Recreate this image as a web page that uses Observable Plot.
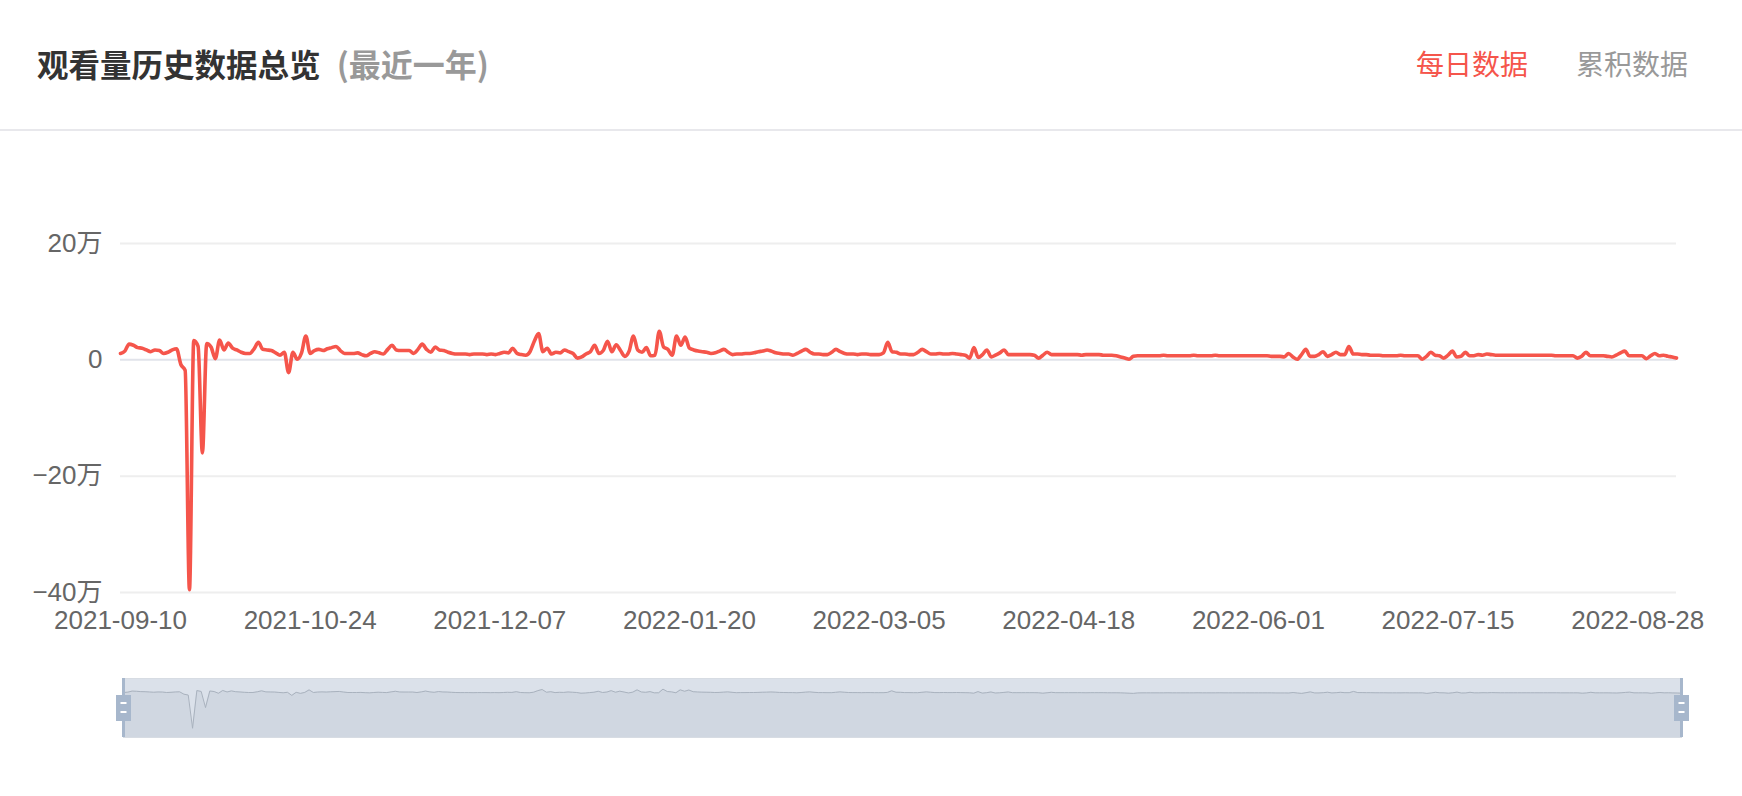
<!DOCTYPE html>
<html>
<head>
<meta charset="utf-8">
<script src="https://cdn.jsdelivr.net/npm/d3@7"></script>
<script src="https://cdn.jsdelivr.net/npm/@observablehq/plot@0.6"></script>
<style>
  html, body { margin: 0; padding: 0; background: #fff; }
  body { width: 1742px; height: 796px; position: relative; overflow: hidden;
         font-family: "Noto Sans CJK SC", "Noto Sans", sans-serif; }
  #title { position: absolute; left: 37px; top: 43px; font-size: 31.5px; font-weight: 700;
           color: #333; line-height: 40px; white-space: nowrap; }
  #title .sub { color: #999; margin-left: 9px; font-size: 32px; }
  .tab { position: absolute; top: 43px; font-size: 28px; line-height: 40px; white-space: nowrap; }
  #tab1 { left: 1416px; color: #f5554b; }
  #tab2 { left: 1576px; color: #999; }
  #sep { position: absolute; left: 0; top: 129px; width: 1742px; height: 2px; background: #e8e8ec; }
  #chart { position: absolute; left: 0; top: 140px; width: 1742px; height: 520px; }
  #slider { position: absolute; left: 0; top: 678px; width: 1742px; }
</style>
</head>
<body>
<div id="title">观看量历史数据总览 <span class="sub">(最近一年)</span></div>
<div class="tab" id="tab1">每日数据</div>
<div class="tab" id="tab2">累积数据</div>
<div id="sep"></div>
<div id="chart"></div>
<div id="slider"></div>
<script>
// ---- data (daily views, unit: 万) ----
const startDate = "2021-09-10";
const dailyViews = [
  1.1, 1.5, 2.7, 2.5, 2.1, 2.0, 1.7, 1.4, 1.7, 1.6,
  1.1, 1.3, 1.7, 1.9, -0.8, -1.8, -39.5, 3.3, 2.3, -16.0,
  2.8, 2.2, 0.2, 3.4, 1.7, 2.9, 2.0, 1.7, 1.3, 1.1,
  1.1, 1.9, 3.0, 1.8, 1.7, 1.6, 1.2, 0.8, 1.3, -2.2,
  1.3, 0.1, 1.2, 4.1, 1.1, 1.6, 1.8, 1.6, 1.9, 2.1,
  2.3, 1.6, 1.1, 1.1, 1.1, 1.2, 0.9, 0.7, 1.1, 1.4,
  1.2, 1.0, 1.8, 2.5, 1.7, 1.6, 1.6, 1.6, 1.1, 1.8,
  2.7, 1.8, 1.3, 2.2, 1.7, 1.6, 1.3, 1.1, 1.0, 1.0,
  1.0, 0.9, 1.0, 1.0, 1.0, 0.9, 1.0, 0.9, 1.1, 1.3,
  1.2, 2.0, 1.1, 0.9, 0.8, 1.4, 3.2, 4.5, 1.4, 2.0,
  1.0, 1.3, 1.2, 1.7, 1.4, 1.1, 0.3, 0.5, 1.0, 1.4,
  2.5, 1.1, 1.6, 3.2, 1.4, 2.6, 1.6, 0.6, 1.5, 4.1,
  1.7, 1.3, 2.1, 0.7, 0.8, 4.9, 2.2, 1.8, 0.8, 4.1,
  2.5, 3.9, 2.0, 1.7, 1.5, 1.4, 1.3, 1.1, 1.2, 1.5,
  1.8, 1.3, 0.9, 1.0, 1.0, 1.1, 1.1, 1.2, 1.4, 1.5,
  1.7, 1.5, 1.2, 1.1, 1.0, 1.0, 0.8, 1.1, 1.5, 1.8,
  1.3, 1.0, 1.0, 0.9, 0.9, 1.3, 1.8, 1.4, 1.1, 1.0,
  1.0, 0.9, 1.0, 1.0, 0.9, 0.9, 0.9, 1.2, 3.0, 1.4,
  1.3, 1.0, 1.0, 0.9, 0.9, 1.3, 1.8, 1.4, 1.0, 1.0,
  1.1, 1.0, 1.0, 1.1, 1.0, 0.9, 0.8, 0.3, 2.1, 0.4,
  0.9, 1.7, 0.5, 0.8, 1.2, 1.7, 0.9, 0.9, 0.9, 0.9,
  0.9, 0.9, 0.8, 0.3, 0.8, 1.3, 0.9, 0.9, 0.9, 0.9,
  0.9, 0.9, 0.9, 0.8, 0.9, 0.9, 0.9, 0.9, 0.8, 0.8,
  0.8, 0.7, 0.5, 0.3, 0.1, 0.6, 0.7, 0.7, 0.7, 0.7,
  0.7, 0.7, 0.8, 0.7, 0.7, 0.7, 0.7, 0.7, 0.7, 0.8,
  0.7, 0.7, 0.7, 0.7, 0.8, 0.7, 0.7, 0.7, 0.7, 0.7,
  0.7, 0.7, 0.7, 0.7, 0.7, 0.7, 0.7, 0.6, 0.6, 0.6,
  0.5, 1.1, 0.5, 0.1, 0.9, 1.8, 0.6, 0.6, 0.9, 1.4,
  0.6, 0.9, 1.3, 0.9, 0.9, 2.3, 1.0, 1.0, 0.9, 0.9,
  0.8, 0.8, 0.8, 0.7, 0.7, 0.7, 0.7, 0.8, 0.7, 0.7,
  0.7, 0.7, 0.1, 0.6, 1.3, 0.8, 0.7, 0.3, 0.8, 1.5,
  0.5, 0.6, 1.3, 0.7, 0.7, 0.9, 0.8, 1.0, 0.9, 0.8,
  0.8, 0.8, 0.8, 0.8, 0.8, 0.8, 0.8, 0.8, 0.8, 0.8,
  0.8, 0.8, 0.8, 0.7, 0.7, 0.7, 0.7, 0.7, 0.3, 0.6,
  1.3, 0.7, 0.7, 0.7, 0.7, 0.6, 0.5, 0.8, 1.2, 1.5,
  0.7, 0.7, 0.7, 0.7, 0.2, 0.7, 1.1, 0.7, 0.8, 0.6,
  0.5, 0.3
];
const xTickLabels = ["2021-09-10", "2021-10-24", "2021-12-07", "2022-01-20", "2022-03-05",
                     "2022-04-18", "2022-06-01", "2022-07-15", "2022-08-28"];
const yTicks = [-40, -20, 0, 20];

// ---- build table ----
const start = d3.utcParse("%Y-%m-%d")(startDate);
const data = dailyViews.map((v, i) => ({date: d3.utcDay.offset(start, i), v}));
const xDomain = [data[0].date, data[data.length - 1].date];
const xTicks = xTickLabels.map(d3.utcParse("%Y-%m-%d"));
const fmtDate = d3.utcFormat("%Y-%m-%d");
const fmtY = d => d === 0 ? "0" : `${d < 0 ? "\u2212" : ""}${Math.abs(d)}万`;

const red = "#f5554b";

const main = Plot.plot({
  width: 1742,
  height: 512,
  marginLeft: 120,
  marginRight: 66,
  marginTop: 103,
  marginBottom: 60,
  style: {fontSize: "26px", fontFamily: "'Liberation Sans', 'Noto Sans CJK SC', sans-serif",
          color: "#666", background: "transparent", maxWidth: "none", overflow: "visible"},
  x: {type: "utc", domain: xDomain, ticks: xTicks, tickFormat: fmtDate, tickSize: 0, tickPadding: 18, label: null},
  y: {domain: [-40, 20], ticks: yTicks, tickFormat: fmtY, tickSize: 0, tickPadding: 18, label: null},
  marks: [
    Plot.ruleY(yTicks.filter(d => d !== 0), {stroke: "#eeeeee", strokeWidth: 2}),
    Plot.ruleY([0], {stroke: "#e1e3ea", strokeWidth: 2}),
    Plot.line(data, {x: "date", y: "v", stroke: red, strokeWidth: 3.6, curve: "monotone-x"})
  ]
});
document.getElementById("chart").appendChild(main);

const ends = [xDomain[0], xDomain[1]];
const slider = Plot.plot({
  width: 1742,
  height: 59,
  marginLeft: 123,
  marginRight: 61,
  marginTop: 0,
  marginBottom: 0,
  style: {background: "transparent", maxWidth: "none", overflow: "visible"},
  x: {type: "utc", domain: xDomain, axis: null},
  y: {domain: [-50, 17], axis: null},
  marks: [
    Plot.frame({fill: "#dbe1ea", stroke: "#d7dce3"}),
    Plot.areaY(data, {x: "date", y1: -50, y2: "v", fill: "#d0d7e1"}),
    Plot.line(data, {x: "date", y: "v", stroke: "#a9b2be", strokeWidth: 1}),
    Plot.ruleX(ends, {stroke: "#a7b7cc", strokeWidth: 3}),
    Plot.ruleX(ends, {stroke: "#a7b7cc", strokeWidth: 15, insetTop: 17, insetBottom: 16}),
    Plot.ruleX(ends, {stroke: "#ffffff", strokeWidth: 6, insetTop: 24, insetBottom: 33}),
    Plot.ruleX(ends, {stroke: "#ffffff", strokeWidth: 6, insetTop: 33, insetBottom: 24})
  ]
});
document.getElementById("slider").appendChild(slider);
</script>
</body>
</html>
